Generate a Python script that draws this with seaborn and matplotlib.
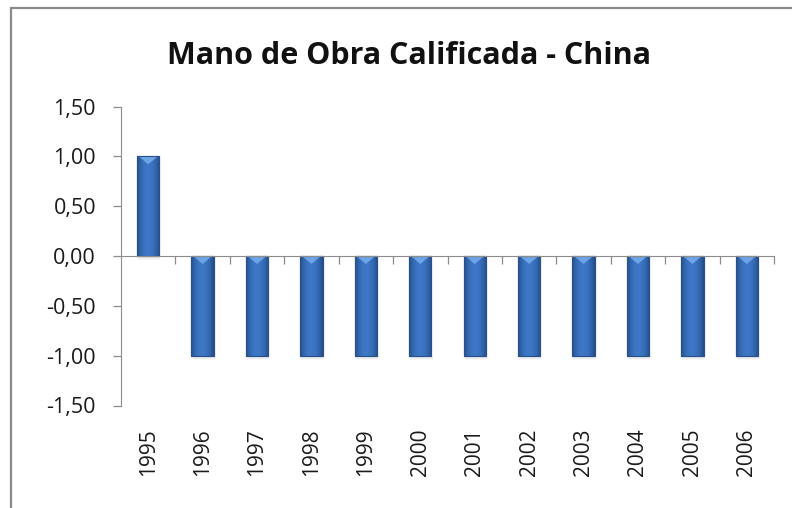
import numpy as np
import pandas as pd
import matplotlib
matplotlib.use("Agg")
import matplotlib.pyplot as plt
import seaborn as sns
from matplotlib.colors import LinearSegmentedColormap
from matplotlib.patches import Polygon, Rectangle
from matplotlib.ticker import FixedLocator, FuncFormatter

# data
years = ['1995', '1996', '1997', '1998', '1999', '2000',
         '2001', '2002', '2003', '2004', '2005', '2006']
values = [1.0, -1.0, -1.0, -1.0, -1.0, -1.0,
          -1.0, -1.0, -1.0, -1.0, -1.0, -1.0]
y_ticks = [1.5, 1.0, 0.5, 0.0, -0.5, -1.0, -1.5]
title = 'Mano de Obra Calificada - China'

df = pd.DataFrame({'year': years, 'value': values})

sns.set_style("white")
plt.rcParams['font.family'] = ['Open Sans', 'DejaVu Sans']

W, H = 792, 508
fig = plt.figure(figsize=(W / 100, H / 100), dpi=100)
ax = fig.add_axes([121 / W, 1 - 405.5 / H, (774 - 121) / W, (405.5 - 106.5) / H])

sns.barplot(data=df, x='year', y='value', color='#3a73c0', width=0.41,
            edgecolor='#2a5189', linewidth=0.8, ax=ax, zorder=3)

# cylinder-like shading on each bar, like the Excel bevel look
shade = LinearSegmentedColormap.from_list(
    'shade', ['#25518c', '#3368b0', '#3b74c1', '#3e78c6', '#3a72bf', '#3166ac', '#234c85'])
grad = np.linspace(0, 1, 64).reshape(1, -1)
for patch in ax.patches:
    x0, y0 = patch.get_x(), patch.get_y()
    w, h = patch.get_width(), patch.get_height()
    lo, hi = min(y0, y0 + h), max(y0, y0 + h)
    # soft shadow below the bar
    for k, a in enumerate([0.25, 0.15, 0.08]):
        ax.add_patch(Rectangle((x0 + 0.02, lo - 0.015 * (k + 1)), w, 0.015, color='#9a9a9a',
                               alpha=a, lw=0, zorder=2))
    im = ax.imshow(grad, extent=[x0, x0 + w, lo, hi], aspect='auto', cmap=shade,
                   zorder=3.5, interpolation='bicubic')
    im.set_clip_path(patch)
    # light chevron highlight at the top
    tri = Polygon([[x0 + 0.03, hi], [x0 + w - 0.03, hi], [x0 + w / 2, hi - 0.08]],
                  closed=True, color='#72aaea', alpha=0.9, lw=0, zorder=3.6)
    ax.add_patch(tri)
    ax.add_patch(Rectangle((x0, lo), w, hi - lo, fill=False, ec='#2a5189', lw=0.8, zorder=3.7))

ax.set_xlim(-0.5, len(years) - 0.5)
ax.set_ylim(-1.5, 1.5)

# axes styling
for s in ['top', 'right']:
    ax.spines[s].set_visible(False)
ax.spines['left'].set_color('#8c8c8c')
ax.spines['bottom'].set_color('#8c8c8c')
ax.spines['bottom'].set_position(('data', 0))
ax.spines['bottom'].set_zorder(4)

ax.set_yticks(y_ticks)
ax.yaxis.set_major_formatter(FuncFormatter(lambda v, p: f"{v:.2f}".replace('.', ',')))
ax.tick_params(axis='y', direction='out', length=6, width=0.9, color='#8c8c8c',
               labelsize=15.5, labelcolor='#1a1a1a', pad=12, left=True)

ax.xaxis.set_minor_locator(FixedLocator(np.arange(0.5, len(years), 1.0)))
ax.tick_params(axis='x', which='minor', direction='out', length=6, width=0.9,
               color='#8c8c8c', bottom=True)
ax.tick_params(axis='x', which='major', length=0, labelsize=15,
               labelcolor='#1a1a1a', pad=124, labelrotation=90)
ax.set_xlabel('')
ax.set_ylabel('')

fig.text(409 / W, 1 - 56 / H, title, ha='center', va='center', fontsize=22,
         fontweight='bold', color='#111111')

# chart frame (only top and left edge visible in the crop)
fig.patches.append(Rectangle((11 / W, -0.1), 1.2, 1.1 - 8.5 / H, transform=fig.transFigure,
                             fill=False, ec='#8a8a8a', lw=1.6))

fig.savefig('out.png', dpi=100)
